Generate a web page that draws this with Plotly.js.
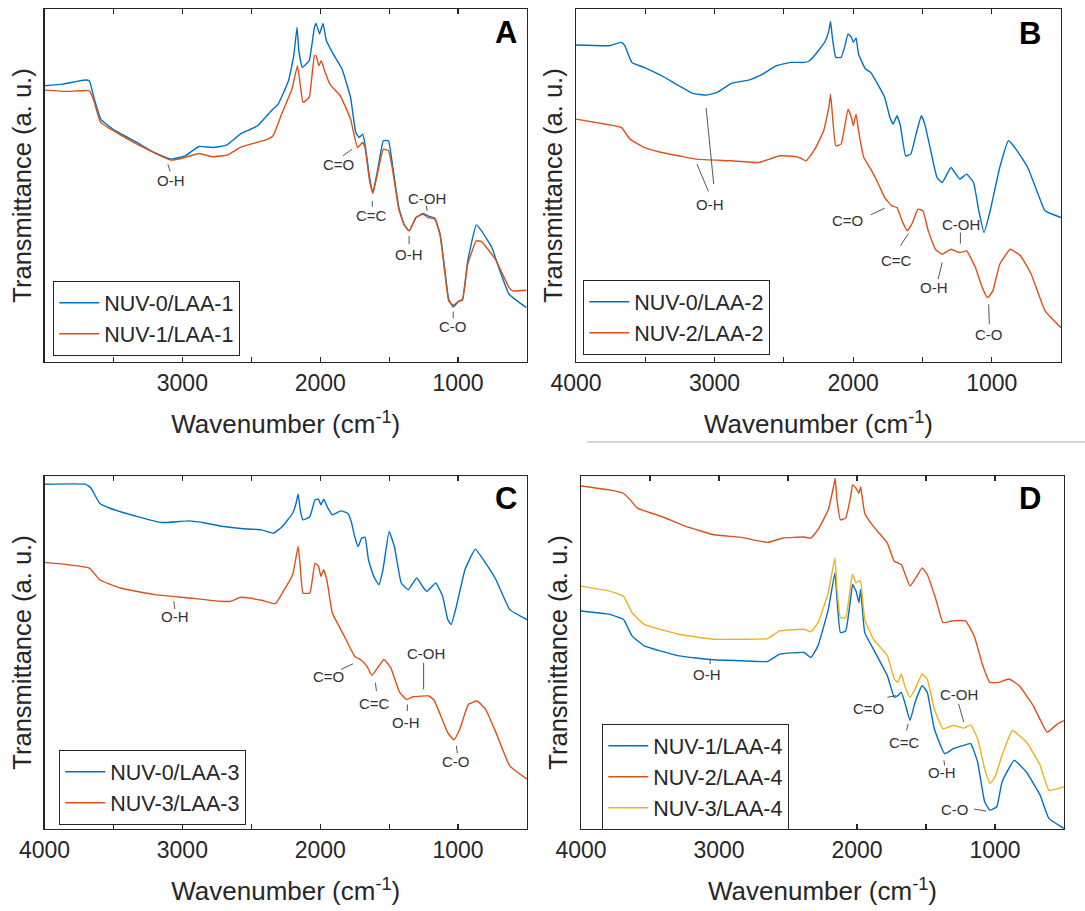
<!DOCTYPE html>
<html><head><meta charset="utf-8">
<script src="https://cdn.plot.ly/plotly-3.0.1.min.js"></script>
<style>html,body{margin:0;padding:0;background:#fff}#chart{width:1085px;height:911px}</style>
</head><body><div id="chart"></div><script>
// ---------- Panel A ----------
const wnA0 = [4000,3868,3705,3675,3642,3592,3505,3330,3205,3080,2980,2880,2780,2680,2580,2455,2355,2305,2230,2192,2168,2155,2130,2080,2042,2030,2005,1980,1955,1905,1842,1780,1742,1717,1692,1675,1642,1618,1580,1542,1505,1480,1430,1392,1355,1305,1255,1218,1168,1130,1092,1068,1035,992,968,930,868,830,755,705,630,555,505];
const tA0  = [82.8,83.3,84.5,84.3,79.3,72.8,69.8,65.8,62.8,60.8,61.8,64.6,64.3,65.0,68.3,70.8,75.3,77.3,84.3,91.8,100.3,93.3,88.3,90.3,100.3,101.5,98.3,101.5,96.3,92.3,87.8,79.3,68.8,67.3,68.3,65.3,55.3,50.8,58.3,66.3,66.3,60.3,46.3,41.3,39.3,43.3,44.5,43.8,43.1,38.3,26.3,18.8,16.5,18.3,18.5,30.3,41.1,39.3,34.3,28.3,20.3,17.8,16.3];
const wnA1 = [4000,3830,3675,3642,3592,3330,3080,2980,2880,2780,2668,2580,2380,2342,2280,2205,2165,2142,2125,2080,2042,2030,2010,1992,1968,1930,1855,1780,1730,1692,1675,1642,1618,1580,1542,1505,1480,1430,1392,1355,1305,1255,1218,1168,1130,1092,1068,1035,992,968,930,868,830,730,630,605,505];
const tA1  = [81.5,81.1,81.3,78.3,71.8,65.3,60.5,61.3,62.5,61.5,62.1,64.3,66.8,67.8,74.3,81.8,88.8,82.3,77.8,79.3,91.8,91.8,88.8,90.3,87.3,83.3,79.8,72.8,64.3,65.8,64.3,54.3,50.5,57.3,63.8,63.3,58.8,45.8,41.1,39.3,43.3,44.3,43.3,42.8,37.8,25.3,18.3,17.1,18.3,18.8,29.3,36.3,36.1,30.8,22.3,21.3,21.5];
const namesA = ['NUV-0/LAA-1','NUV-1/LAA-1'];

// ---------- Panel B ----------
const wnB0 = [4000,3761,3673,3648,3597,3509,3383,3257,3157,3056,2981,2880,2754,2653,2553,2452,2351,2314,2251,2200,2175,2163,2150,2125,2087,2062,2037,2012,1999,1979,1961,1911,1873,1823,1772,1735,1710,1684,1659,1621,1584,1546,1508,1483,1445,1395,1357,1294,1231,1181,1131,1093,1055,1017,942,879,816,740,665,615,501];
const tB0  = [95.0,94.8,95.8,94.8,89.8,88.3,85.8,82.8,80.5,80.0,80.8,83.5,84.5,86.3,88.8,89.8,89.8,90.3,93.3,96.3,99.3,102.1,97.3,91.3,91.3,94.3,98.3,97.3,95.8,97.1,92.3,87.8,86.8,83.3,79.3,73.3,71.3,73.8,70.8,61.8,62.3,68.3,73.8,71.3,64.3,55.3,53.8,58.3,54.8,56.3,53.8,45.3,38.8,44.3,58.3,66.3,63.3,58.3,50.3,45.3,43.3];
const wnB1 = [4000,3761,3673,3610,3509,3383,3257,3132,2880,2679,2603,2528,2402,2339,2276,2213,2175,2163,2150,2125,2087,2062,2037,2012,1999,1979,1961,1923,1873,1823,1772,1722,1684,1647,1609,1571,1533,1496,1458,1407,1357,1294,1231,1181,1118,1068,1030,992,942,866,791,715,615,501];
const tB1  = [72.8,71.1,70.3,66.8,64.3,62.8,61.8,60.8,60.3,59.8,60.8,61.8,61.5,60.3,63.8,69.3,76.3,80.3,74.3,64.8,65.3,70.3,75.8,73.3,70.8,74.3,69.3,61.3,57.8,53.8,49.3,46.8,46.3,42.3,39.3,41.8,45.8,45.3,39.3,33.8,32.3,33.8,32.8,33.3,28.3,22.3,19.3,21.3,29.3,33.8,31.8,26.3,15.3,10.3];
const namesB = ['NUV-0/LAA-2','NUV-2/LAA-2'];

// ---------- Panel C ----------
const wnC0 = [4000,3700,3662,3600,3525,3325,3150,3025,2950,2825,2700,2575,2425,2338,2275,2200,2175,2160,2145,2125,2075,2038,2012,1995,1975,1950,1912,1850,1800,1775,1750,1725,1700,1675,1650,1612,1575,1545,1500,1462,1412,1362,1300,1250,1225,1162,1112,1075,1050,1012,950,875,800,725,625,500];
const tC0  = [103.7,103.7,102.5,98.0,96.5,94.0,92.2,92.5,92.7,92.0,91.0,90.4,90.0,89.0,91.0,95.0,98.0,100.8,96.0,93.0,94.0,99.0,99.2,97.5,99.2,97.0,94.5,95.7,95.0,92.5,88.0,85.0,87.5,87.8,81.0,76.0,73.5,78.0,89.5,85.0,74.0,72.0,75.5,72.5,71.5,74.0,70.0,63.0,61.5,67.0,78.0,84.2,80.0,75.0,66.0,63.0];
const wnC1 = [4000,3825,3675,3600,3450,3200,2950,2725,2650,2575,2425,2325,2275,2200,2160,2145,2125,2075,2038,2012,1995,1975,1950,1912,1825,1750,1700,1662,1625,1575,1538,1488,1425,1375,1325,1212,1175,1125,1075,1030,988,925,862,800,725,625,500];
const tC1  = [80.2,79.5,78.5,75.0,72.5,70.5,69.5,68.5,68.5,69.7,68.8,67.8,71.0,76.5,85.0,79.0,71.0,71.0,80.0,79.0,76.0,78.0,74.5,65.0,58.0,52.0,50.7,49.0,46.2,49.0,51.0,48.5,41.2,39.0,39.8,40.0,38.8,34.0,29.0,26.8,30.0,37.5,38.5,36.0,29.0,19.0,15.0];
const namesC = ['NUV-0/LAA-3','NUV-3/LAA-3'];

// ---------- Panel D ----------
const wnD1 = [4000,3794,3693,3630,3542,3290,3039,2837,2648,2560,2384,2334,2283,2208,2160,2145,2120,2082,2044,2032,2007,1986,1974,1944,1881,1780,1730,1704,1679,1654,1616,1579,1528,1491,1440,1365,1302,1226,1176,1126,1075,1037,987,949,861,773,673,610,501];
const tD1  = [65.7,64.7,63.2,58.2,55.2,52.2,51.0,50.7,50.5,52.7,53.2,51.7,55.2,66.2,77.2,69.2,59.2,59.7,70.2,73.7,71.7,68.2,72.2,59.2,54.2,46.2,39.7,40.2,41.2,38.2,32.7,38.2,43.2,41.2,30.2,22.7,24.2,25.2,25.7,20.2,8.2,5.7,6.7,14.2,20.7,17.2,10.2,3.2,0.2];
const wnD2 = [4000,3794,3693,3643,3592,3416,3240,3039,2837,2648,2535,2384,2334,2283,2208,2170,2158,2145,2120,2082,2044,2032,2007,1986,1974,1944,1881,1780,1730,1679,1616,1566,1528,1491,1428,1377,1314,1214,1151,1088,1037,975,899,824,723,622,547,501];
const tD2  = [103.4,102.2,101.2,99.2,96.7,94.2,91.2,88.7,87.9,86.4,87.7,88.0,87.7,90.2,96.2,103.2,105.7,99.2,93.2,93.7,100.7,103.7,102.7,101.2,103.2,95.2,91.2,86.2,80.7,79.7,73.2,76.2,78.7,76.7,69.2,62.2,62.7,62.7,58.2,49.2,44.2,44.2,45.2,43.2,37.2,29.2,31.7,32.7];
const wnD3 = [4000,3794,3693,3630,3542,3290,3039,2837,2648,2560,2384,2334,2283,2208,2160,2145,2120,2082,2044,2032,2007,1986,1974,1944,1881,1780,1730,1704,1679,1654,1616,1579,1528,1491,1440,1377,1302,1226,1176,1126,1075,1037,1000,949,874,773,673,610,501];
const tD3  = [73.2,71.7,70.2,65.2,61.7,58.7,57.2,57.2,57.4,59.7,60.2,59.4,62.2,71.2,81.7,72.2,63.7,63.7,74.2,76.7,74.2,74.7,74.7,63.2,57.2,52.2,45.2,44.2,46.7,43.2,39.7,42.2,46.7,45.2,36.2,30.2,31.2,30.4,31.4,27.2,18.2,13.7,15.7,22.2,29.7,26.2,19.2,11.7,12.7];
const namesD = ['NUV-1/LAA-4','NUV-2/LAA-4','NUV-3/LAA-4'];

const tickValsFull = [4000,3000,2000,1000];
const tickValsA = [3000,2000,1000];

// band labels: [text, textX, textY, lineX0, lineY0, lineX1, lineY1]
const labelsA = [
  ['O-H',3085,54.3,3105,59.3,3088,57.1],
  ['C=O',1868,59.1,1835,61.8,1768,63.8],
  ['C=C',1630,44.0,1622,48.3,1622,46.5],
  ['C-OH',1222,49.1,1230,46.8,1225,45.3],
  ['O-H',1355,32.3,1355,37.8,1355,35.3],
  ['C-O',1035,10.5,1035,15.1,1035,13.1]
];
const labelsB = [
  ['O-H',3036,47.3,3061,76.1,3006,53.3],
  ['',0,0,3127,59.3,3044,51.1],
  ['C=O',2042,42.3,1873,44.1,1772,46.1],
  ['C=C',1684,30.5,1659,34.8,1601,38.5],
  ['C-OH',1219,41.3,1226,38.8,1226,35.5],
  ['O-H',1413,22.3,1387,24.8,1357,29.8],
  ['C-O',1022,8.3,1022,17.3,1017,11.3]
];
const labelsC = [
  ['O-H',3055,64.0,3062,68.5,3055,66.2],
  ['C=O',1938,46.0,1850,48.0,1762,49.7],
  ['C=C',1608,37.8,1600,44.0,1592,41.5],
  ['O-H',1380,32.0,1368,37.5,1368,35.5],
  ['C-OH',1230,52.8,1250,50.0,1250,42.0],
  ['C-O',1012,20.3,1012,25.0,1005,22.8]
];
const labelsD = [
  ['O-H',3089,46.7,3064,51.2,3064,49.7],
  ['C=O',1918,36.4,1780,39.7,1717,40.2],
  ['C=C',1659,26.2,1642,29.7,1629,31.7],
  ['C-OH',1264,40.4,1264,37.7,1226,32.2],
  ['O-H',1382,17.0,1370,20.7,1365,19.2],
  ['C-O',1289,6.0,1151,6.0,1063,5.4]
];

const BLUE = '#0072BD', ORANGE = '#D95319', YELLOW = '#EDB120';
const FONT = '"Liberation Sans", Arial, Helvetica, sans-serif';
const AX = '#262626';
const W = 1085, H = 911;

function tr(x, y, name, color, xa, ya, leg) {
  return {type:'scatter', mode:'lines', x:x, y:y, name:name, xaxis:xa, yaxis:ya, legend:leg,
          line:{color:color, width:1.4, shape:'spline', smoothing:0.35}, hoverinfo:'skip'};
}
const data = [
  tr(wnA0,tA0,namesA[0],BLUE,'x','y','legend'),
  tr(wnA1,tA1,namesA[1],ORANGE,'x','y','legend'),
  tr(wnB0,tB0,namesB[0],BLUE,'x2','y2','legend2'),
  tr(wnB1,tB1,namesB[1],ORANGE,'x2','y2','legend2'),
  tr(wnC0,tC0,namesC[0],BLUE,'x3','y3','legend3'),
  tr(wnC1,tC1,namesC[1],ORANGE,'x3','y3','legend3'),
  tr(wnD1,tD1,namesD[0],BLUE,'x4','y4','legend4'),
  tr(wnD2,tD2,namesD[1],ORANGE,'x4','y4','legend4'),
  tr(wnD3,tD3,namesD[2],YELLOW,'x4','y4','legend4')
];

function px(a,b){return [a/W,b/W];}
function py(top,bot){return [1-bot/H,1-top/H];}
function xax(dom, anchor, tvals) {
  return {domain:dom, anchor:anchor, range:[4000,500], tickmode:'array', tickvals:tvals,
    ticks:'inside', ticklen:5, tickwidth:1.2, tickcolor:AX, showline:true, linecolor:AX, linewidth:1.3,
    minor:{ticks:'inside', ticklen:5, tickwidth:1.2, tickcolor:AX, dtick:500, tick0:0, showgrid:false},
    mirror:'ticks', showgrid:false, zeroline:false, fixedrange:true,
    tickfont:{family:FONT,size:23,color:AX},
    title:{text:'Wavenumber (cm<sup>-1</sup>)', font:{family:FONT,size:26,color:AX}, standoff:20}};
}
function yax(dom, anchor, top) {
  return {domain:dom, anchor:anchor, range:[0,top], showticklabels:false, ticks:'', showline:true,
    linecolor:AX, linewidth:1.3, mirror:true, showgrid:false, zeroline:false, fixedrange:true,
    title:{text:'Transmittance (a. u.)', font:{family:FONT,size:25.5,color:AX}, standoff:4}};
}
function leg(x, y) {
  return {x:x/W, y:1-y/H, xanchor:'left', yanchor:'top', bgcolor:'#ffffff', bordercolor:AX, borderwidth:1.3,
    font:{family:FONT,size:21.5,color:AX}, tracegroupgap:0, traceorder:'normal', itemwidth:40};
}

const shapes = [];
const annotations = [];
function addLabels(list, xr, yr) {
  list.forEach(l => {
    shapes.push({type:'line', xref:xr, yref:yr, x0:l[3], y0:l[4], x1:l[5], y1:l[6],
                 line:{color:'#555555', width:1}});
    if (l[0]) annotations.push({xref:xr, yref:yr, x:l[1], y:l[2], text:l[0], showarrow:false,
                 font:{family:FONT,size:15,color:'#333333'}, xanchor:'center', yanchor:'middle'});
  });
}
addLabels(labelsA,'x','y');
addLabels(labelsB,'x2','y2');
addLabels(labelsC,'x3','y3');
addLabels(labelsD,'x4','y4');

[['A',506,32],['B',1030,33],['C',506,499],['D',1030,499]].forEach(p => {
  annotations.push({xref:'paper', yref:'paper', x:p[1]/W, y:1-p[2]/H, text:'<b>'+p[0]+'</b>', showarrow:false,
    xanchor:'center', yanchor:'middle', font:{family:FONT,size:31,color:'#000000'}});
});
shapes.push({type:'line', xref:'paper', yref:'paper', x0:587/W, x1:1, y0:1-442/H, y1:1-442/H,
             line:{color:'#b0b0b0', width:1}});

const layout = {
  width:W, height:H, margin:{l:0,r:0,t:0,b:0}, paper_bgcolor:'#fff', plot_bgcolor:'#fff',
  showlegend:true,
  xaxis: xax(px(44.5,527),'y',tickValsA),
  yaxis: yax(py(9,362),'x',105.8),
  xaxis2: xax(px(576,1061),'y2',tickValsFull),
  yaxis2: yax(py(9,362),'x2',105.8),
  xaxis3: xax(px(44.5,527),'y3',tickValsFull),
  yaxis3: yax(py(476,829),'x3',106.2),
  xaxis4: xax(px(581,1064),'y4',tickValsFull),
  yaxis4: yax(py(476,829),'x4',106.4),
  legend: leg(53,281),
  legend2: leg(583,280),
  legend3: leg(59,750),
  legend4: leg(602,724),
  shapes: shapes,
  annotations: annotations
};
Plotly.newPlot('chart', data, layout, {staticPlot:true, displayModeBar:false});
</script></body></html>
